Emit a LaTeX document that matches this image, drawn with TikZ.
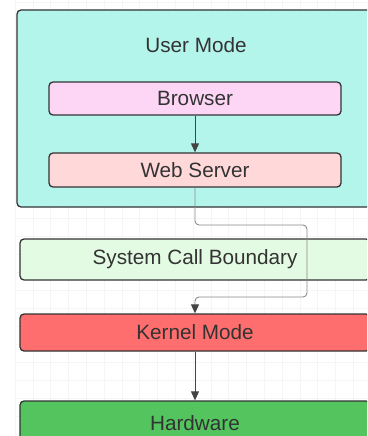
\documentclass[tikz,border=0pt]{standalone}
\usepackage{fontspec}
\setmainfont{Liberation Sans}
\usetikzlibrary{arrows.meta}
\definecolor{umfill}{HTML}{B4F5EB}
\definecolor{brfill}{HTML}{FDD6F6}
\definecolor{wsfill}{HTML}{FFD9D9}
\definecolor{scfill}{HTML}{E3FAE3}
\definecolor{kmfill}{HTML}{FF6E6E}
\definecolor{hwfill}{HTML}{54C45E}
\definecolor{edge}{HTML}{333333}
\definecolor{txt}{HTML}{333333}
\definecolor{gridc}{HTML}{F5F5F5}
\definecolor{connc}{HTML}{8A8A8A}
\definecolor{arrc}{HTML}{444444}
\tikzset{
  box/.style={draw=edge, line width=1.3pt, rounded corners=4pt, inner sep=0pt, text=txt,
    font=\fontsize{20.7}{24}\selectfont},
  lbl/.style={text=txt, font=\fontsize{20.7}{24}\selectfont, inner sep=0pt},
  arr/.style={draw=arrc, line width=1pt, -{Triangle[length=9pt,width=8pt]}},
  conn/.style={draw=connc, line width=0.9pt, rounded corners=4pt, -{Triangle[length=9pt,width=8pt,color=arrc]}}
}
\begin{document}
\begin{tikzpicture}[x=1pt,y=-1pt]
\useasboundingbox (0,0) rectangle (367,436);
\begin{scope}
\clip (0,0) rectangle (367,436);
\fill[white] (0,0) rectangle (367,436);
\foreach \i in {0,...,20} {\draw[gridc, line width=0.5pt] (15+17.8*\i,0) -- (15+17.8*\i,436);}
\foreach \j in {0,...,24} {\draw[gridc, line width=0.5pt] (15,2+18*\j) -- (367,2+18*\j);}
\node[box, fill=umfill, minimum width=358pt, minimum height=197pt] (um) at (196,108.5) {};
\node[lbl] (umlabel) at (196,45) {User Mode};
\node[box, fill=brfill, minimum width=292pt, minimum height=33pt] (br) at (195,98.5) {Browser};
\node[box, fill=wsfill, minimum width=292pt, minimum height=34pt] (ws) at (195,170) {Web Server};
\node[box, fill=scfill, minimum width=350pt, minimum height=41pt] (sc) at (195,259.5) {System Call Boundary};
\node[box, fill=kmfill, minimum width=350pt, minimum height=37pt] (km) at (195,332.5) {Kernel Mode};
\node[box, fill=hwfill, minimum width=350pt, minimum height=44pt] (hw) at (195,423) {Hardware};
\coordinate (c1) at (307,225);
\coordinate (c2) at (307,297);
\draw[arr] (br) -- (ws);
\draw[conn] (ws.south) |- (c1) -- (c2) -| (km.north);
\draw[arr] (km) -- (hw);
\end{scope}
\end{tikzpicture}
\end{document}
